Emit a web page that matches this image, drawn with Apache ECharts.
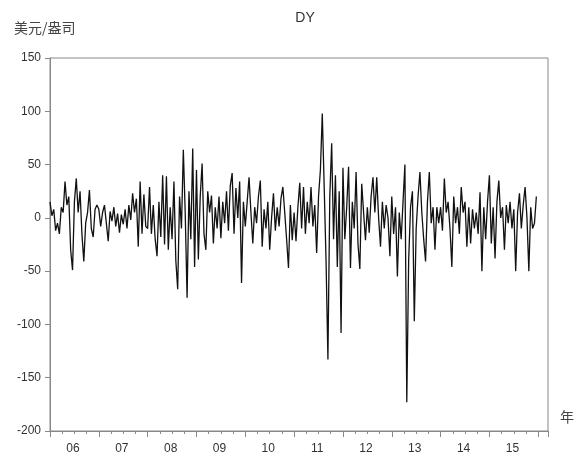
<!DOCTYPE html>
<html>
<head>
<meta charset="utf-8">
<script src="https://cdn.jsdelivr.net/npm/echarts@6/dist/echarts.min.js"></script>
<style>html,body{margin:0;padding:0;background:#fff;}#c{width:579px;height:465px;}</style>
</head>
<body>
<div id="c"></div>
<script>
// Biweekly observations per year (26 per year), values in 美元/盎司
const years = [2006, 2007, 2008, 2009, 2010, 2011, 2012, 2013, 2014, 2015];
const dy2006 = [15, 2, 8, -12, -5, -15, 10, 5, 34, 12, 20, -30, -49, 15, 37, 5, 25, -15, -41, -5, 5, 26, -10, -18, 8, 12];
const dy2007 = [8, -8, 5, 12, -5, -22, 6, -3, 10, -8, 4, -14, 3, -6, 8, -10, 12, -2, 23, 5, 18, -27, 34, -15, 22, -8];
const dy2008 = [-10, 29, -15, 12, -20, -36, 15, -18, 40, -25, 39, -30, 10, -20, 34, -40, -67, 20, -10, 64, 5, -75, 25, -20, 65, -46];
const dy2009 = [45, -39, 20, 51, -15, -30, 25, 5, 21, -24, 10, -10, 20, -19, 15, -5, 25, -12, 30, 42, -15, 28, 0, 34, -61, 15];
const dy2010 = [-8, 15, 38, 5, -24, 10, -5, 20, 35, -27, 8, -10, 15, -30, 0, 23, -12, 10, -8, 18, 29, 5, -20, -47, 12, -21];
const dy2011 = [5, -22, 10, 33, -10, 29, -15, 15, -5, 29, -8, 12, -33, 20, 45, 98, 30, -40, -133, 20, 70, -20, 40, -46, 25, -108];
const dy2012 = [47, -20, 10, 48, -47, 15, -10, 43, -24, -48, 32, 5, -21, 10, -14, 20, 38, 5, 38, 0, -27, 15, -10, 12, 0, -36];
const dy2013 = [20, -15, 10, -55, 5, -20, 15, 50, -173, -40, 10, 25, -97, -10, 20, 43, 5, -20, -41, 15, 43, -5, 10, -30, 10, -5];
const dy2014 = [10, -12, 37, 5, 15, -10, -46, 20, -5, 10, -15, 29, 5, 15, -27, 10, -24, 8, -10, 5, -15, 24, -50, 10, -20, 15];
const dy2015 = [40, -24, 10, -38, 15, 35, 0, 10, -30, 12, -5, 15, -10, 8, -50, 5, 23, -10, 12, 29, 0, -50, 10, -10, -5, 20];
const yearSeries = [dy2006, dy2007, dy2008, dy2009, dy2010, dy2011, dy2012, dy2013, dy2014, dy2015];
const yTicks = [-200, -150, -100, -50, 0, 50, 100, 150];

const data = [];
years.forEach((yr, k) => {
  const arr = yearSeries[k];
  arr.forEach((v, i) => data.push([yr + i / arr.length, v]));
});

const FONT = '"Liberation Sans", Arial, "Noto Sans CJK SC", sans-serif';
const chart = echarts.init(document.getElementById('c'), null, {renderer: 'canvas'});
chart.setOption({
  animation: false,
  backgroundColor: '#fff',
  title: {
    text: 'DY', left: 300, top: 6, textAlign: 'center',
    textStyle: {fontFamily: FONT, fontSize: 14, fontWeight: 'normal', color: '#333'}
  },
  graphic: [
    {type: 'text', left: 14, top: 21, style: {text: '美元/盎司', font: '14px "Noto Sans CJK SC", sans-serif', fill: '#444'}},
    {type: 'text', left: 560, top: 410, style: {text: '年', font: '14px "Noto Sans CJK SC", sans-serif', fill: '#444'}}
  ],
  grid: {left: 50, right: 31, top: 58, bottom: 34, show: true, borderColor: '#888', borderWidth: 1, backgroundColor: '#fff'},
  xAxis: {
    type: 'value', min: 2006, max: 2016.2, interval: 1,
    axisLine: {show: true, onZero: false, lineStyle: {color: '#888', width: 1}},
    axisTick: {show: true, length: 6, lineStyle: {color: '#888'}},
    minorTick: {show: true, splitNumber: 4, length: 3, lineStyle: {color: '#888'}},
    splitLine: {show: false},
    axisLabel: {
      margin: 12, showMaxLabel: false,
      formatter: function (v) {
        if (v >= 2016) return '';
        return '{a|' + String(Math.round(v) % 100).padStart(2, '0') + '}';
      },
      rich: {a: {fontFamily: FONT, fontSize: 12, color: '#333', padding: [0, 0, 0, 46]}}
    }
  },
  yAxis: {
    type: 'value', min: yTicks[0], max: yTicks[yTicks.length - 1], interval: 50,
    axisLine: {show: true, lineStyle: {color: '#888', width: 1}},
    axisTick: {show: true, length: 5, lineStyle: {color: '#888'}},
    splitLine: {show: false},
    axisLabel: {margin: 9, fontFamily: FONT, fontSize: 12, color: '#333'}
  },
  series: [{
    type: 'line', data: data, showSymbol: false, symbol: 'none',
    lineStyle: {color: '#111', width: 1.3}
  }]
});
</script>
</body>
</html>
